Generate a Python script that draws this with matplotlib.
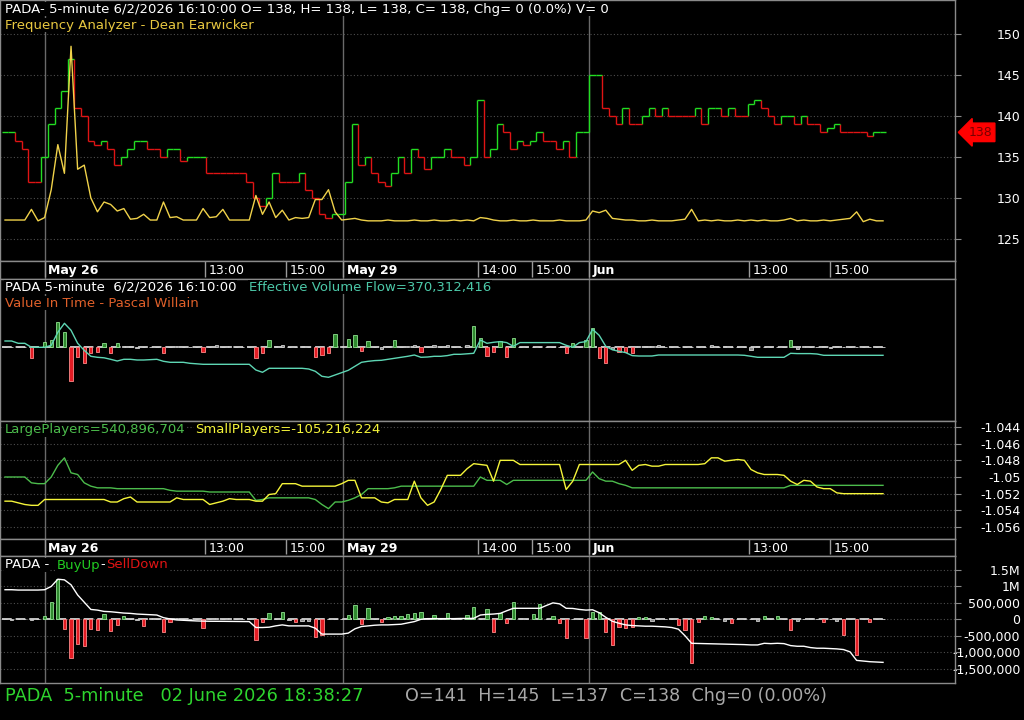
import numpy as np
import matplotlib.pyplot as plt
from matplotlib.transforms import blended_transform_factory

# ── Data (one value per plotted bar) ─────────────────────────────────────────
close = [138, 138, 137, 136, 132, 132, 135, 139, 141, 143,
         147, 141, 140, 137, 136.5, 137, 136, 134, 135, 136,
         137, 137, 136, 136, 135, 136, 136, 134.5, 135, 135,
         135, 133, 133, 133, 133, 133, 133, 132, 130, 129,
         130, 133, 132, 132, 132, 133, 131, 130, 128, 127.5,
         128, 128, 132, 139, 134, 135, 133, 132, 131.5, 133,
         135, 133, 136, 135, 133.5, 135, 135, 136, 135, 135,
         134, 135, 142, 135, 136, 139, 138, 136, 137, 136.5,
         137, 138, 137, 137, 136, 137, 135, 138, 138, 145,
         145, 141, 140, 139, 141, 139, 139, 140, 141, 140,
         141, 140, 140, 140, 140, 141, 139, 141, 141, 140,
         141, 140, 140, 141.5, 142, 141, 140, 139, 140, 140,
         139, 140, 139, 139, 138, 138.5, 139, 138, 138, 138,
         138, 137.5, 138, 138]

freq = [127.3, 127.3, 127.3, 127.3, 128.6, 127.2, 127.6, 131.0, 136.5, 133.0,
        148.5, 133.5, 134.0, 130.0, 128.3, 129.5, 129.2, 128.4, 128.7, 127.4,
        127.5, 128.0, 127.3, 127.3, 129.5, 127.6, 127.7, 127.3, 127.3, 127.3,
        128.7, 127.6, 127.7, 128.6, 127.3, 127.3, 127.3, 127.3, 130.3, 128.0,
        129.5, 127.6, 128.5, 127.3, 127.6, 127.5, 127.6, 129.8, 129.8, 131.0,
        128.3, 127.3, 127.4, 127.5, 127.3, 127.2, 127.2, 127.2, 127.3, 127.2,
        127.2, 127.2, 127.3, 127.2, 127.2, 127.3, 127.2, 127.2, 127.3, 127.2,
        127.3, 127.2, 127.6, 127.5, 127.3, 127.2, 127.2, 127.3, 127.2, 127.2,
        127.3, 127.2, 127.2, 127.2, 127.3, 127.2, 127.2, 127.2, 127.3, 128.4,
        128.2, 128.5, 127.5, 127.4, 127.3, 127.3, 127.2, 127.2, 127.3, 127.2,
        127.2, 127.2, 127.3, 127.4, 128.6, 127.2, 127.3, 127.2, 127.3, 127.2,
        127.2, 127.3, 127.2, 127.3, 127.2, 127.3, 127.2, 127.2, 127.3, 127.5,
        127.2, 127.3, 127.2, 127.2, 127.3, 127.2, 127.3, 127.4, 127.5, 128.3,
        127.1, 127.4, 127.2, 127.2]

evf = [6.3, 6.3, 4, 4, 0, 0, 0, 2, 15, 24,
       17, 4, -3, -9, -10, -10.5, -12, -13.7, -12, -12,
       -12.7, -12.7, -12.3, -12, -14, -15, -15, -15, -16, -16.5,
       -17, -17, -17, -17, -17, -17, -17, -17, -22.7, -25,
       -21, -21, -21, -21, -21, -21, -21.7, -24, -29, -30,
       -27.7, -25.3, -23, -19, -15, -14, -13.3, -13, -12, -11,
       -10, -9, -7.7, -10, -9.7, -9, -9, -8.3, -7, -7,
       -6.5, -6, 7.3, 4, 5, 5.7, 4.7, 1, 4.7, 4.7,
       4.7, 4.7, 4.7, 4.7, 4.7, 2, 0, 4.7, 5.7, 18,
       12, 1, -2.5, -4, -5.3, -8.3, -8.7, -8.7, -8.7, -7.7,
       -7.7, -7.7, -7.7, -7.7, -7.7, -7.7, -7.7, -7.7, -7.7, -7.7,
       -7.7, -7.7, -8, -9, -10, -10, -10, -10, -10, -6,
       -6.3, -6.3, -6.3, -6.7, -8, -8, -8, -8, -8, -8,
       -8, -8, -8, -8]

vit = [0, 0, 0, 0, -11, 0, 5.7, 7.3, 25.7, 15.7,
       -34, -9.3, -16, -5.3, -4.3, 4, -5.3, 4, 1, 1.5,
       -0.5, 0.5, 0, 0, -5.3, 0.5, 1.5, 0, 0, 0,
       -4.3, 0, 2, 0, 1, 0, 0, 0, -11, -5.3,
       7.3, 1, 2, 0, 0, 1, 0, -9.3, -7.7, -5.3,
       13.3, 1.5, 8, 12.3, -3.3, 6.3, 0, -2, 1.5, 7.3,
       0, 1.5, 2.5, -4.3, 0, 2, 0, 2, 0, 0,
       2, 21.3, 9, -8.7, -4.3, 6.3, -9.3, 9, 0, 0,
       0, 0, 0, 0, 0, -5.3, 4.7, 0, 7.3, 19,
       -11, -15.3, -2, -4.3, -4.3, -5.3, 1, 1.5, 1, 2,
       0, 0, 0, 0, 0, 0, 0, 2, 0, 1,
       0, 0, 0, -2.3, 1, 0, 0, 0, 0, 7.3,
       -2, 1, 0, 0, 1, -1, 1, 0, 0, 0,
       0, 0, 0, 0]

large = [-1.0500, -1.0500, -1.0500, -1.0500, -1.0507, -1.0508, -1.0508, -1.0500, -1.0486, -1.0477,
         -1.0495, -1.0497, -1.0507, -1.0511, -1.0513, -1.0513, -1.0513, -1.0514, -1.0514, -1.0514,
         -1.0514, -1.0514, -1.0514, -1.0514, -1.0514, -1.0516, -1.0517, -1.0517, -1.0517, -1.0517,
         -1.0517, -1.0518, -1.0518, -1.0518, -1.0518, -1.0518, -1.0518, -1.0518, -1.0528, -1.0527,
         -1.0525, -1.0525, -1.0525, -1.0525, -1.0525, -1.0525, -1.0525, -1.0527, -1.0533, -1.0538,
         -1.0530, -1.0530, -1.0528, -1.0525, -1.0521, -1.0514, -1.0514, -1.0514, -1.0514, -1.0513,
         -1.0511, -1.0511, -1.0511, -1.0511, -1.0511, -1.0511, -1.0511, -1.0511, -1.0511, -1.0511,
         -1.0511, -1.0511, -1.0500, -1.0504, -1.0504, -1.0504, -1.0509, -1.0504, -1.0504, -1.0504,
         -1.0504, -1.0504, -1.0504, -1.0504, -1.0504, -1.0504, -1.0504, -1.0504, -1.0504, -1.0494,
         -1.0502, -1.0505, -1.0505, -1.0508, -1.0510, -1.0513, -1.0513, -1.0513, -1.0513, -1.0513,
         -1.0513, -1.0513, -1.0513, -1.0513, -1.0513, -1.0513, -1.0513, -1.0513, -1.0513, -1.0513,
         -1.0513, -1.0513, -1.0513, -1.0513, -1.0513, -1.0513, -1.0513, -1.0513, -1.0513, -1.0510,
         -1.0510, -1.0510, -1.0510, -1.0510, -1.0510, -1.0510, -1.0510, -1.0510, -1.0510, -1.0510,
         -1.0510, -1.0510, -1.0510, -1.0510]

small = [-1.0529, -1.0529, -1.0531, -1.0533, -1.0534, -1.0534, -1.0527, -1.0527, -1.0527, -1.0527,
         -1.0527, -1.0527, -1.0527, -1.0527, -1.0527, -1.0527, -1.0530, -1.0530, -1.0526, -1.0524,
         -1.0530, -1.0530, -1.0530, -1.0530, -1.0530, -1.0530, -1.0525, -1.0527, -1.0527, -1.0527,
         -1.0527, -1.0533, -1.0531, -1.0529, -1.0526, -1.0527, -1.0527, -1.0527, -1.0529, -1.0529,
         -1.0521, -1.0520, -1.0508, -1.0508, -1.0508, -1.0511, -1.0511, -1.0511, -1.0511, -1.0511,
         -1.0511, -1.0508, -1.0504, -1.0504, -1.0525, -1.0525, -1.0525, -1.0530, -1.0531, -1.0527,
         -1.0527, -1.0527, -1.0505, -1.0525, -1.0534, -1.0530, -1.0515, -1.0498, -1.0498, -1.0498,
         -1.0490, -1.0484, -1.0485, -1.0486, -1.0505, -1.0480, -1.0480, -1.0480, -1.0485, -1.0485,
         -1.0485, -1.0485, -1.0485, -1.0485, -1.0485, -1.0515, -1.0505, -1.0485, -1.0485, -1.0485,
         -1.0485, -1.0485, -1.0485, -1.0485, -1.0480, -1.0492, -1.0486, -1.0485, -1.0487, -1.0487,
         -1.0485, -1.0485, -1.0485, -1.0485, -1.0485, -1.0485, -1.0484, -1.0477, -1.0477, -1.0481,
         -1.0480, -1.0479, -1.0480, -1.0491, -1.0495, -1.0497, -1.0497, -1.0497, -1.0498, -1.0505,
         -1.0509, -1.0504, -1.0505, -1.0512, -1.0514, -1.0514, -1.0519, -1.0520, -1.0520, -1.0520,
         -1.0520, -1.0520, -1.0520, -1.0520]

# BuyUp-SellDown bars and cumulative line, in thousands
buy = [10, -10, 0, 10, -10, 10, 100, 540, 1227, -294,
       -1187, -760, -811, -290, -325, 152, -345, -172, 101, 20,
       -20, -193, 30, 20, -396, -91, 30, 10, 0, 20,
       -274, 20, 40, 20, 30, 20, 0, 10, -629, -91,
       183, 20, 213, -30, -70, -50, -50, -527, -477, 0,
       0, 20, 130, 436, -152, 335, 20, -70, 80, 110,
       100, 152, 183, 213, 20, 130, 20, 183, 20, 0,
       130, 365, 0, 314, -396, 183, -122, 540, 30, 20,
       152, 456, 20, 110, -122, -578, 0, 0, -578, 233,
       213, -396, -781, -223, -274, -223, 80, 80, -50, 20,
       20, 0, -172, -325, -1339, -91, 101, 80, 0, -60,
       -120, 0, 20, 0, -40, 101, 0, 101, 20, -325,
       -50, 0, 50, 20, -71, 0, -40, -477, 0, -1085,
       0, -71, 0, 0]

cum = [900, 900, 890, 890, 890, 890, 900, 1000, 1220, 1200,
       1050, 740, 520, 300, 280, 240, 230, 210, 190, 180,
       160, 150, 140, 130, 50, 10, -20, -30, -40, -50,
       -55, -60, -60, -62, -65, -65, -68, -70, -250, -250,
       -240, -200, -170, -200, -200, -200, -200, -270, -450, -450,
       -450, -450, -420, -290, -220, -200, -180, -170, -170, -160,
       -150, -110, -70, 0, 20, 20, 20, 20, 20, 25,
       25, 30, 130, 150, 160, 180, 260, 335, 335, 335,
       335, 335, 420, 500, 470, 335, 330, 300, 280, 290,
       200, 60, -60, -120, -170, -190, -200, -210, -210, -220,
       -230, -250, -300, -500, -730, -735, -740, -745, -750, -755,
       -760, -765, -770, -780, -780, -730, -740, -730, -740, -800,
       -820, -820, -860, -880, -880, -890, -900, -920, -990, -1250,
       -1270, -1290, -1300, -1310]

day_breaks = [6.0, 51.2, 88.5]
tick_pos = [6.0, 30.3, 42.6, 51.2, 71.6, 79.8, 88.5, 112.7, 125.0]
tick_labels = ["May 26", "13:00", "15:00", "May 29", "14:00", "15:00", "Jun", "13:00", "15:00"]
tick_bold = [True, False, False, True, False, False, True, False, False]

price_ticks = [125, 130, 135, 140, 145, 150]
player_ticks = [-1.044, -1.046, -1.048, -1.050, -1.052, -1.054, -1.056]
player_labels = ["-1.044", "-1.046", "-1.048", "-1.05", "-1.052", "-1.054", "-1.056"]
flow_ticks = [1500, 1000, 500, 0, -500, -1000, -1500]
flow_labels = ["1.5M", "1M", "500,000", "0", "-500,000", "-1,000,000", "-1,500,000"]

# ── Layout helpers ───────────────────────────────────────────────────────────
BG = "black"
W, H = 1024, 720
XLIM = (-0.76, 143.9)
GREEN, RED = "#22dd22", "#e01414"
HDR = 9.5

fig = plt.figure(figsize=(10.24, 7.2), dpi=100)
fig.patch.set_facecolor(BG)


def px_axes(top, bottom, left=0, right=955):
    ax = fig.add_axes([left / W, 1 - bottom / H, (right - left) / W, (bottom - top) / H])
    ax.set_facecolor(BG)
    ax.set_xlim(*XLIM)
    ax.set_xticks([])
    for s in ax.spines.values():
        s.set_edgecolor("#8a8a8a")
        s.set_linewidth(1)
    for d in day_breaks:
        ax.axvline(d, color="#6a6a6a", lw=1, zorder=0)
    return ax


def right_axis(ax, ticks, labels):
    ax.yaxis.tick_right()
    ax.set_yticks(ticks)
    ax.set_yticklabels(labels)
    ax.tick_params(axis="y", colors="#8a8a8a", labelcolor="white", length=4,
                   pad=43, labelsize=9)
    plt.setp(ax.get_yticklabels(), ha="right")
    ax.grid(axis="y", color="#4e4e4e", ls=(0, (1, 2)), lw=0.8)
    ax.set_axisbelow(True)


def ftext(x, y, s, color, size=HDR, weight="normal"):
    fig.text(x / W, 1 - y / H, s, color=color, fontsize=size, fontweight=weight,
             ha="left", va="center",
             bbox=dict(fc=BG, ec="none", pad=0.6))


def date_strip(ax):
    ax.set_ylim(0, 1)
    ax.set_yticks([])
    for pos, lab, bold in zip(tick_pos, tick_labels, tick_bold):
        ax.vlines(pos, 0.1, 1, color="#9a9a9a", lw=1)
        ax.text(pos + 0.55, 0.47, lab, color="white", fontsize=9,
                fontweight="bold" if bold else "normal", ha="left", va="center")


def bar_colors(vals, small_lim):
    face, edge = [], []
    for v in vals:
        if abs(v) <= small_lim:
            face.append("#8c8c8c"); edge.append("#d0d0d0")
        elif v > 0:
            face.append("#2f8a2f"); edge.append("#8ee08e")
        else:
            face.append("#e41c24"); edge.append("#ff8a8a")
    return face, edge


idx = np.arange(len(close))
close_a = np.array(close, dtype=float)

# ── Panel 1: price steps + Frequency Analyzer ───────────────────────────────
ax1 = px_axes(0, 261)
ax1.set_ylim(122.3, 154.15)
right_axis(ax1, price_ticks, [str(t) for t in price_ticks])

prev = np.r_[close_a[0], close_a[:-1]]
cols, c = [], GREEN
for p, q in zip(prev, close_a):
    if q > p:
        c = GREEN
    elif q < p:
        c = RED
    cols.append(c)
ax1.vlines(idx - 0.5, prev, close_a, colors=cols, lw=1)
ax1.hlines(close_a, idx - 0.5, idx + 0.5, colors=cols, lw=1)
ax1.plot(idx, freq, color="#f0d24a", lw=1)

tr = blended_transform_factory(ax1.transAxes, ax1.transData)
ax1.text(1.014, close[-1], f"{close[-1]:g}", transform=tr, ha="left", va="center",
         color="#7a0000", fontsize=9, clip_on=False,
         bbox=dict(boxstyle="larrow,pad=0.22", fc="#ff0000", ec="#ff0000"))

ftext(5, 9, "PADA- 5-minute 6/2/2026 16:10:00 O= 138, H= 138, L= 138, C= 138, Chg= 0 (0.0%) V= 0", "white")
ftext(5, 25, "Frequency Analyzer - Dean Earwicker", "#e8c840")

strip1 = px_axes(261, 279)
date_strip(strip1)

# ── Panel 2: Effective Volume Flow / Value In Time ──────────────────────────
ax2 = px_axes(279, 421)
ax2.set_ylim(-73.7, 68.3)
ax2.set_yticks([])
face, edge = bar_colors(vit, 2.5)
ax2.bar(idx, vit, width=0.5, color=face, edgecolor=edge, lw=0.6, zorder=2)
ax2.plot([idx[0] - 0.5, idx[-1] + 0.5], [0, 0], color="#c4c4c4", lw=1.4,
         dashes=(5, 2), zorder=1)
ax2.plot(idx, evf, color="#5ed6b4", lw=1, zorder=3)
ftext(5, 287, "PADA 5-minute  6/2/2026 16:10:00", "white")
ftext(249, 287, "Effective Volume Flow=370,312,416", "#4cc8a8")
ftext(5, 303, "Value In Time - Pascal Willain", "#e0602a")

# ── Panel 3: Large / Small players ──────────────────────────────────────────
ax3 = px_axes(421, 539)
ax3.set_ylim(-1.05744, -1.04328)
right_axis(ax3, player_ticks, player_labels)
ax3.plot(idx, large, color="#4cbc4c", lw=1)
ax3.plot(idx, small, color="#f5f53a", lw=1)
ftext(5, 430, "LargePlayers=540,896,704", "#4cbc4c")
ftext(195, 430, "SmallPlayers=-105,216,224", "#f5f53a")

strip2 = px_axes(539, 556)
date_strip(strip2)

# ── Panel 4: BuyUp-SellDown ─────────────────────────────────────────────────
ax4 = px_axes(556, 683)
ax4.set_ylim(-1938, 1926)
right_axis(ax4, flow_ticks, flow_labels)
face, edge = bar_colors(buy, 60)
ax4.bar(idx, buy, width=0.5, color=face, edgecolor=edge, lw=0.6, zorder=2)
ax4.plot([idx[0] - 0.5, idx[-1] + 0.5], [0, 0], color="#c4c4c4", lw=1.4,
         dashes=(5, 2), zorder=1)
ax4.plot(idx, cum, color="white", lw=1, zorder=3)
ftext(5, 565, "PADA -", "white")
ftext(57, 565, "BuyUp", "#22cc22")
ftext(100, 565, "-", "white")
ftext(106, 565, "SellDown", "#e01414")

# ── Footer ──────────────────────────────────────────────────────────────────
fig.text(5 / W, 1 - 696 / H, "PADA  5-minute   02 June 2026 18:38:27",
         color="#2ed42e", fontsize=12.8, ha="left", va="center")
fig.text(405 / W, 1 - 696 / H, "O=141  H=145  L=137  C=138  Chg=0 (0.00%)",
         color="#a8a8a8", fontsize=12.6, ha="left", va="center")

fig.savefig("out.png", dpi=100, facecolor=BG)
